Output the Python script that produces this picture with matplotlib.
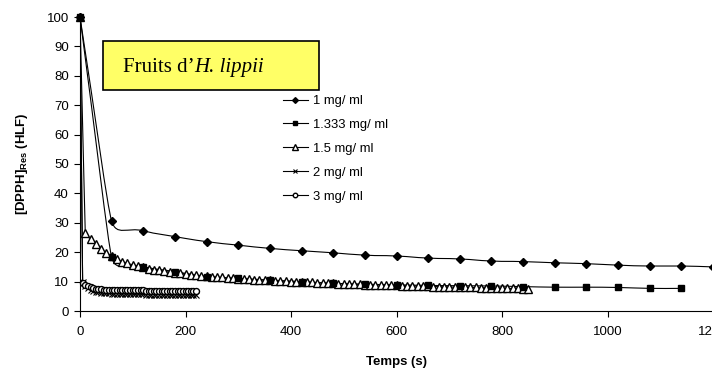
import numpy as np
import matplotlib
matplotlib.use("Agg")
import matplotlib.pyplot as plt
from matplotlib.path import Path
from matplotlib.patches import PathPatch, Rectangle
from matplotlib.lines import Line2D
from matplotlib.text import Annotation

plt.rcParams['font.family'] = ['Liberation Sans', 'DejaVu Sans']
plt.rcParams['mathtext.default'] = 'regular'

labels = ['1 mg/ ml', '1.333 mg/ ml', '1.5 mg/ ml', '2 mg/ ml', '3 mg/ ml']

# 1 mg/ml, one reading per minute
t_1 = np.arange(0, 1260, 60)
c_1 = [100, 30.6, 27.3, 25.3, 23.6, 22.4, 21.3, 20.5, 19.8, 19.0, 18.7,
       18.0, 17.7, 17.0, 16.8, 16.4, 16.1, 15.6, 15.3, 15.3, 15.0]

# 1.333 mg/ml
t_2 = np.arange(0, 1200, 60)
c_2 = [100, 18.3, 15.1, 13.4, 11.7, 11.1, 10.5, 10.0, 9.4, 9.1,
       8.9, 8.7, 8.6, 8.5, 8.3, 8.1, 8.1, 8.0, 7.7, 7.7]

# 1.5 mg/ml, every 10 s
t_3 = np.arange(0, 860, 10)
c_3 = [100,
       26.5, 24.5, 22.8, 21.2, 19.8, 18.6, 17.6, 16.8, 16.2, 15.7,
       15.2, 14.8, 14.4, 14.1, 13.8, 13.5, 13.2, 13.0, 12.8, 12.6,
       12.4, 12.2, 12.0, 11.8, 11.7, 11.5, 11.4, 11.2, 11.1, 11.0,
       10.9, 10.8, 10.7, 10.6, 10.5, 10.4, 10.3, 10.2, 10.1, 10.0,
       9.9, 9.8, 9.8, 9.7, 9.6, 9.5, 9.5, 9.4, 9.3, 9.3,
       9.2, 9.1, 9.1, 9.0, 8.9, 8.9, 8.8, 8.8, 8.7, 8.7,
       8.6, 8.6, 8.5, 8.5, 8.4, 8.4, 8.3, 8.3, 8.2, 8.2,
       8.1, 8.1, 8.0, 8.0, 8.0, 7.9, 7.9, 7.8, 7.8, 7.8,
       7.7, 7.7, 7.7, 7.6, 7.6]

# 2 and 3 mg/ml, every 5 s
t_4 = np.arange(0, 225, 5)
c_4 = [100, 9.8, 8.6, 7.8, 7.2, 6.8, 6.5, 6.3, 6.2, 6.1, 6.0, 6.0, 5.9, 5.9,
       5.9, 5.8, 5.8, 5.8, 5.8, 5.7, 5.7, 5.7, 5.7, 5.7, 5.7, 5.6, 5.6, 5.6,
       5.6, 5.6, 5.6, 5.6, 5.6, 5.5, 5.5, 5.5, 5.5, 5.5, 5.5, 5.5, 5.5, 5.5,
       5.4, 5.4, 5.4]
t_5 = np.arange(0, 225, 5)
c_5 = [100, 9.5, 9.0, 8.5, 8.1, 7.8, 7.6, 7.5, 7.4, 7.3, 7.3, 7.2, 7.2, 7.2,
       7.1, 7.1, 7.1, 7.1, 7.0, 7.0, 7.0, 7.0, 7.0, 7.0, 7.0, 6.9, 6.9, 6.9,
       6.9, 6.9, 6.9, 6.9, 6.9, 6.9, 6.8, 6.8, 6.8, 6.8, 6.8, 6.8, 6.8, 6.8,
       6.8, 6.8, 6.8]


def smooth_line(ax, x, y, k=0.5):
    # excel-like smoothed line, built in pixel space
    pts = ax.transData.transform(np.column_stack([x, y]))
    n = len(pts)
    seg = np.diff(pts, axis=0)
    L = np.hypot(seg[:, 0], seg[:, 1])
    d = np.zeros_like(pts)
    for i in range(n):
        v = pts[min(i + 1, n - 1)] - pts[max(i - 1, 0)]
        d[i] = v / np.hypot(*v)
    verts = [pts[0]]
    codes = [Path.MOVETO]
    for i in range(n - 1):
        m0 = k * min(L[i], L[i - 1] if i > 0 else L[i])
        m1 = k * min(L[i], L[i + 1] if i + 1 < n - 1 else L[i])
        verts += [pts[i] + d[i] * m0, pts[i + 1] - d[i + 1] * m1, pts[i + 1]]
        codes += [Path.CURVE4] * 3
    verts = ax.transData.inverted().transform(np.array(verts))
    ax.add_patch(PathPatch(Path(verts, codes), fill=False, lw=0.8, ec='black'))


W, H = 712, 371
fig = plt.figure(figsize=(W / 100, H / 100), dpi=100)
ax = fig.add_axes([80 / W, (H - 311) / H, 633 / W, 294 / H])
ax.set_xlim(0, 1200)
ax.set_ylim(0, 100)

series = [
    (t_1, c_1, dict(marker='D', ms=3.9, mfc='black')),
    (t_2, c_2, dict(marker='s', ms=4.3, mfc='black')),
    (t_3, c_3, dict(marker='^', ms=5.5, mfc='white')),
    (t_4, c_4, dict(marker='x', ms=4.3, mew=0.8)),
    (t_5, c_5, dict(marker='o', ms=4.3, mfc='white')),
]
zorders = [6, 5, 4, 3, 3.5]

handles = []
for (t, c, st), lab, z in zip(series, labels, zorders):
    smooth_line(ax, t, c)
    ax.plot(t, c, ls='none', color='black', mec='black', clip_on=False,
            zorder=z, **st)
    handles.append(Line2D([], [], color='black', lw=0.8, mec='black', **st))

ax.set_xticks(np.arange(0, 1201, 200))
ax.set_yticks(np.arange(0, 101, 10))
for s in ['top', 'right']:
    ax.spines[s].set_visible(False)
for s in ['left', 'bottom']:
    ax.spines[s].set_linewidth(0.8)
ax.tick_params(axis='both', direction='out', length=4, width=0.8,
               labelsize=9.5)
ax.tick_params(axis='x', pad=7)
ax.tick_params(axis='y', pad=4)

ax.set_xlabel('Temps (s)', fontsize=9.5, fontweight='bold', labelpad=13)
ax.set_ylabel(r'[DPPH]$_{\mathregular{Res}}$ (HLF)', fontsize=9.5,
              fontweight='bold', labelpad=12)

fig.legend(handles, labels, loc='upper left',
           bbox_to_anchor=(283 / W, 1 - 95 / H), frameon=False,
           fontsize=9.4, handlelength=1.9, handletextpad=0.4,
           labelspacing=0.9, borderpad=0, borderaxespad=0, markerscale=0.75)

# title box
fig.add_artist(Rectangle((103 / W, 1 - 90 / H), 216 / W, 49 / H,
                         transform=fig.transFigure, fc='#FFFF66',
                         ec='black', lw=1.2, zorder=10))
t1 = fig.text(123 / W, 1 - 72 / H, 'Fruits d\u2019', family='Liberation Serif',
              fontsize=15, va='baseline', zorder=11)
fig.add_artist(Annotation('H. lippii', xy=(1, 0), xycoords=t1, va='bottom',
                          family='Liberation Serif', style='italic',
                          fontsize=15, annotation_clip=False, zorder=11))

fig.savefig('out.png', dpi=100)
